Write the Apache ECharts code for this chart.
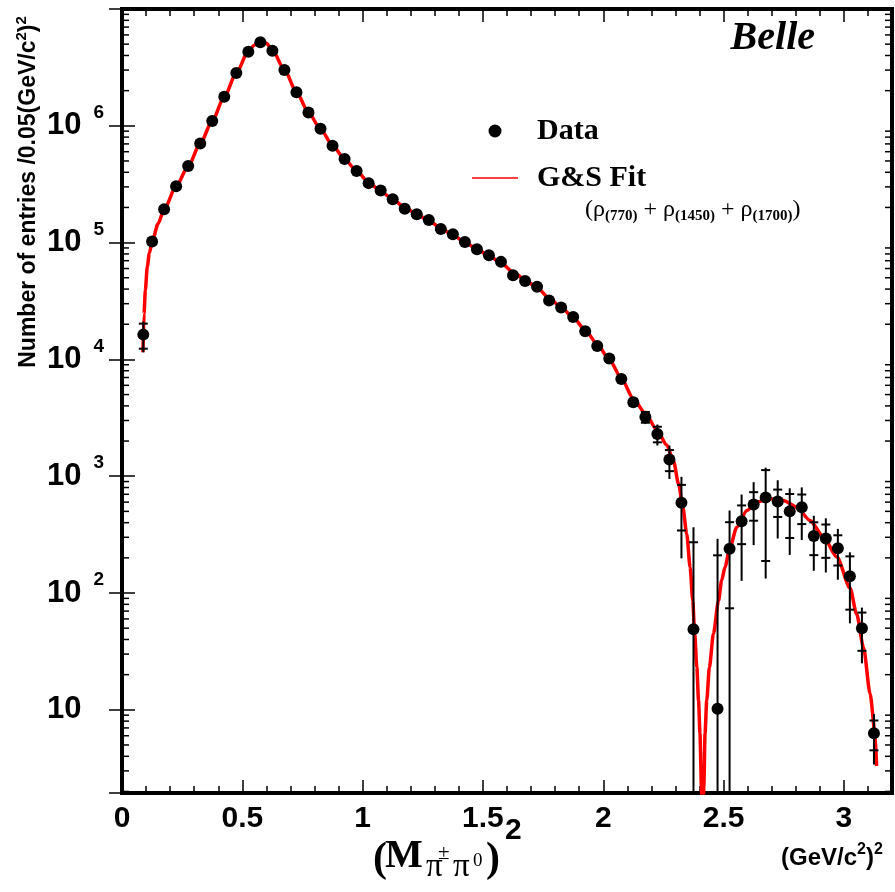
<!DOCTYPE html>
<html><head><meta charset="utf-8">
<script src="https://cdn.jsdelivr.net/npm/echarts@6/dist/echarts.min.js"></script>
<style>html,body{margin:0;padding:0;background:#fff}#c{width:895px;height:892px}</style>
</head><body><div id="c"></div>
<script>
// ---- data ----
const dataX = [0.0885,
  0.125,0.175,0.225,0.275,0.325,0.375,0.425,0.475,0.525,0.575,
  0.625,0.675,0.725,0.775,0.825,0.875,0.925,0.975,1.025,1.075,
  1.125,1.175,1.225,1.275,1.325,1.375,1.425,1.475,1.525,1.575,
  1.625,1.675,1.725,1.775,1.825,1.875,1.925,1.975,2.025,2.075,
  2.125,2.175,2.225,2.275,2.325,2.375,
  2.475,2.525,2.575,2.625,2.675,2.725,2.775,2.825,2.875,2.925,2.975,3.025,3.075,3.125];
const dataY = [1.63e4,
  1.02e5,1.93e5,3.04e5,4.52e5,7.07e5,1.10e6,1.77e6,2.83e6,4.30e6,5.19e6,
  4.39e6,3.00e6,1.94e6,1.30e6,9.42e5,6.75e5,5.19e5,4.11e5,3.23e5,2.79e5,
  2.35e5,1.95e5,1.75e5,1.56e5,1.31e5,1.18e5,1.01e5,8.77e4,7.80e4,6.84e4,
  5.26e4,4.70e4,4.19e4,3.20e4,2.78e4,2.31e4,1.74e4,1.30e4,1.02e4,6.80e3,
  4290,3210,2300,1390,593,49,
  10.2,239,412,573,658,608,500,543,307,293,242,139,50,6.3];
// statistical error (tick marks)
const dataErrStat = [3950,
  1500,2000,2500,3000,3500,4500,6000,7500,9000,10000,
  9000,7500,6000,5000,4000,3500,3000,2700,2400,2200,
  2000,1800,1700,1600,1500,1400,1300,1200,1100,1000,
  900,850,800,700,650,600,500,400,300,250,
  300,340,350,285,250,223,
  200,165,150,157,470,160,204,154,96,93,70,67,18,1.8];
// total error (full bar length)
const dataErrTot = [4800,
  1800,2400,3000,3600,4200,5400,7200,9000,10800,12000,
  10800,9000,7200,6000,4800,4200,3600,3240,2880,2640,
  2400,2160,2040,1920,1800,1680,1560,1440,1320,1200,
  1080,1020,960,840,780,720,600,480,360,300,
  350,415,470,443,395,317,
  281,270,285,316,525,315,288,259,152,143,112,84,25,2.9];

const fitX = [0.087,0.0915,0.097,0.105,0.1135,0.125,0.15,0.175,0.225,0.275,0.325,0.375,0.425,0.475,
  0.525,0.55,0.575,0.6,0.625,0.675,0.725,0.775,0.825,0.875,0.925,0.975,1.025,1.075,1.125,1.175,
  1.225,1.275,1.325,1.375,1.425,1.475,1.525,1.575,1.625,1.675,1.725,1.775,1.825,1.875,1.925,1.975,
  2.025,2.075,2.125,2.175,2.222,2.264,2.292,2.313,2.331,2.347,2.361,2.372,2.380,2.389,2.396,2.402,
  2.408,2.4125,2.418,2.423,2.430,2.441,2.458,2.479,2.492,2.506,2.525,2.555,2.597,2.638,2.693,2.749,
  2.804,2.859,2.916,2.971,3.026,3.053,3.082,3.109,3.130,3.136];
const fitY = [1.15e4,2.45e4,3.9e4,6.2e4,8.1e4,1.01e5,1.45e5,1.93e5,3.03e5,4.5e5,7.05e5,1.1e6,1.77e6,2.83e6,
  4.35e6,4.9e6,5.45e6,5.08e6,4.45e6,3.02e6,1.95e6,1.3e6,9.4e5,6.8e5,5.2e5,4.1e5,3.3e5,2.75e5,2.35e5,2.0e5,
  1.75e5,1.54e5,1.33e5,1.16e5,1.01e5,8.8e4,7.7e4,6.7e4,5.6e4,4.8e4,4.1e4,3.35e4,2.8e4,2.28e4,1.78e4,1.35e4,
  1.0e4,6.9e3,4.6e3,3.45e3,2.5e3,1.85e3,1.35e3,860,540,320,166,86,45,23,12,6.3,
  2.2,0.3,2.2,6.3,12,23,45,86,128,166,239,366,509,600,641,621,
  543,418,301,203,110,66,34,13.7,6.2,3.3];

const xTickLabels = ['0','0.5','1','1.5','2','2.5','3'];
const yTickExponents = [1,2,3,4,5,6];
const X_MIN = 0, X_MAX = 3.2, Y_MIN = 1.94, Y_MAX = 1e7;
const yMinorMultipliers = [2,3,4,5,6,7,8,9];

// ---- build options ----
const minorVals = [];
for (let d = 0; d <= 6; d++) for (const m of yMinorMultipliers) {
  const v = m * Math.pow(10, d);
  if (v > Y_MIN && v < Y_MAX) minorVals.push([X_MIN, v]);
}
const scatterData = dataX.map((x, i) => [x, dataY[i]]);
const errData = dataX.map((x, i) => [x, dataY[i], dataErrStat[i], dataErrTot[i]]);
const fitData = fitX.map((x, i) => [x, fitY[i]]);

const SANS = 'Liberation Sans', SERIF = 'Liberation Serif';
const tickStyle = {color: '#000', width: 1.5};

function xAxisDef(pos, interval, len, showLabel) {
  return {
    type: 'value', position: pos, min: X_MIN, max: X_MAX, interval: interval,
    axisLine: {show: false}, splitLine: {show: false},
    axisTick: {show: true, inside: true, length: len, lineStyle: tickStyle},
    axisLabel: showLabel ? {
      show: true, margin: 11, color: '#000', fontFamily: SANS, fontWeight: 'bold', fontSize: 30,
      formatter: function (v) {
        const idx = Math.round(v / 0.5);
        if (Math.abs(v - idx * 0.5) > 1e-6) return '';
        return xTickLabels[idx] !== undefined ? xTickLabels[idx] : '';
      }
    } : {show: false}
  };
}
function yAxisDef(pos, showLabel) {
  return {
    type: 'log', logBase: 10, position: pos, min: Y_MIN, max: Y_MAX,
    axisLine: {show: false}, splitLine: {show: false},
    axisTick: {show: true, inside: true, length: 13, lineStyle: tickStyle},
    axisLabel: showLabel ? {
      show: true, margin: 75, align: 'left', color: '#000',
      formatter: function (v) {
        const e = Math.log10(v), n = Math.round(e);
        if (Math.abs(e - n) > 1e-4 || yTickExponents.indexOf(n) < 0) return '';
        return n === 1 ? '{b|10}' : '{b|10}{s|' + n + '}';
      },
      rich: {
        b: {fontFamily: SANS, fontWeight: 'bold', fontSize: 31, lineHeight: 32, color: '#000'},
        s: {fontFamily: SANS, fontWeight: 'bold', fontSize: 19, lineHeight: 20, padding: [0, 0, 26, 12], color: '#000'}
      }
    } : {show: false}
  };
}

const chart = echarts.init(document.getElementById('c'), null, {renderer: 'canvas'});
chart.setOption({
  animation: false,
  backgroundColor: '#fff',
  grid: {left: 122, right: 3, top: 9, bottom: 99, show: true, borderWidth: 4, borderColor: '#000',
         backgroundColor: 'transparent', containLabel: false, outerBoundsMode: 'none'},
  xAxis: [
    xAxisDef('bottom', 0.5, 13, true),
    xAxisDef('bottom', 0.1, 7, false),
    xAxisDef('top', 0.5, 13, false),
    xAxisDef('top', 0.1, 7, false)
  ],
  yAxis: [yAxisDef('left', true), yAxisDef('right', false)],
  legend: {
    orient: 'vertical', left: 467, top: 111, itemWidth: 46, itemHeight: 13, itemGap: 17,
    textStyle: {fontFamily: SERIF, fontWeight: 'bold', fontSize: 30, color: '#000', padding: [0, 0, 0, 14]},
    data: [
      {name: 'Data', icon: 'circle', itemStyle: {color: '#000', opacity: 1}},
      {name: 'G&S Fit', icon: 'path://M0,0L46,0L46,1.3L0,1.3Z', itemStyle: {color: '#ff0000'}}
    ]
  },
  series: [
    {
      name: 'G&S Fit', type: 'line', data: fitData, xAxisIndex: 0, yAxisIndex: 0,
      showSymbol: false, symbol: 'none', smooth: 0.25, smoothMonotone: 'x', clip: true,
      lineStyle: {color: '#ff0000', width: 3.5}, itemStyle: {color: '#ff0000'}, z: 2
    },
    {
      name: 'errors', type: 'custom', data: errData, xAxisIndex: 0, yAxisIndex: 0,
      encode: {x: 0, y: 1}, silent: true, z: 3, clip: false,
      renderItem: function (params, api) {
        const x = api.value(0), y = api.value(1), es = api.value(2), et = api.value(3);
        const cs = params.coordSys;
        const bottomY = cs.y + cs.height;
        const cx = api.coord([x, y])[0];
        const yOf = function (v) { return v < Y_MIN ? bottomY : api.coord([x, v])[1]; };
        const st = {stroke: '#000', lineWidth: 2};
        const w = 4.5;
        const ch = [
          {type: 'line', shape: {x1: cx, y1: yOf(y + et), x2: cx, y2: yOf(y - et)}, style: st},
          {type: 'line', shape: {x1: cx - w, y1: yOf(y + es), x2: cx + w, y2: yOf(y + es)}, style: st}
        ];
        if (y - es >= Y_MIN) {
          const yl = yOf(y - es);
          ch.push({type: 'line', shape: {x1: cx - w, y1: yl, x2: cx + w, y2: yl}, style: st});
        }
        return {type: 'group', children: ch};
      }
    },
    {
      name: 'Data', type: 'scatter', data: scatterData, xAxisIndex: 0, yAxisIndex: 0,
      symbol: 'circle', symbolSize: 12, itemStyle: {color: '#000', opacity: 1}, z: 4
    },
    {
      name: 'minorTicks', type: 'custom', data: minorVals, xAxisIndex: 0, yAxisIndex: 0,
      encode: {x: 0, y: 1}, silent: true, z: 5, clip: false,
      renderItem: function (params, api) {
        const v = api.value(1);
        const l = api.coord([X_MIN, v]), r = api.coord([X_MAX, v]);
        const st = {stroke: '#000', lineWidth: 1.5};
        return {type: 'group', children: [
          {type: 'line', shape: {x1: l[0], y1: l[1], x2: l[0] + 7, y2: l[1]}, style: st},
          {type: 'line', shape: {x1: r[0] - 7, y1: r[1], x2: r[0], y2: r[1]}, style: st}
        ]};
      }
    }
  ],
  graphic: [
    {type: 'text', x: 29, y: 192, rotation: Math.PI / 2, silent: true, style: {
      text: '{a|Number of entries /0.05(GeV/c}{s|2}{a|)}{s|2}', align: 'center', verticalAlign: 'middle',
      rich: {
        a: {fontFamily: SANS, fontWeight: 'bold', fontSize: 23, lineHeight: 24, fill: '#000'},
        s: {fontFamily: SANS, fontWeight: 'bold', fontSize: 15, lineHeight: 14, padding: [0, 0, 14, 0], fill: '#000'}
      }}},
    {type: 'text', x: 815, y: 39, silent: true, style: {text: 'Belle', fontFamily: SERIF, fontStyle: 'italic',
      fontWeight: 'bold', fontSize: 40, fill: '#000', align: 'right', verticalAlign: 'middle'}},
    {type: 'text', x: 585, y: 210, silent: true, style: {
      text: '{p|(ρ}{s|(770)}{p| + ρ}{s|(1450)}{p| + ρ}{s|(1700)}{p|)}', align: 'left', verticalAlign: 'middle',
      rich: {
        p: {fontFamily: SERIF, fontSize: 24, lineHeight: 26, fill: '#000'},
        s: {fontFamily: SERIF, fontWeight: 'bold', fontSize: 15, lineHeight: 16, padding: [12, 0, 0, 0], fill: '#000'}
      }}},
    {type: 'text', x: 781, y: 858, silent: true, style: {
      text: '{a|(GeV/c}{s|2}{a|)}{s|2}', align: 'left', verticalAlign: 'middle',
      rich: {
        a: {fontFamily: SANS, fontWeight: 'bold', fontSize: 24, lineHeight: 26, fill: '#000'},
        s: {fontFamily: SANS, fontWeight: 'bold', fontSize: 16, lineHeight: 16, padding: [0, 0, 16, 0], fill: '#000'}
      }}},
    {type: 'group', silent: true, children: [
      {type: 'text', x: 373, y: 860, style: {text: '(', fontFamily: SERIF, fontWeight: 'bold', fontSize: 42, fill: '#000', verticalAlign: 'middle'}},
      {type: 'text', x: 385, y: 857, style: {text: 'M', fontFamily: SERIF, fontWeight: 'bold', fontSize: 40, fill: '#000', verticalAlign: 'middle'}},
      {type: 'text', x: 426, y: 867, style: {text: 'π', fontFamily: SERIF, fontSize: 33, fill: '#000', verticalAlign: 'middle'}},
      {type: 'text', x: 438, y: 853, style: {text: '±', fontFamily: SERIF, fontSize: 21, fill: '#000', verticalAlign: 'middle'}},
      {type: 'text', x: 453, y: 867, style: {text: 'π', fontFamily: SERIF, fontSize: 33, fill: '#000', verticalAlign: 'middle'}},
      {type: 'text', x: 473, y: 861, style: {text: '0', fontFamily: SERIF, fontSize: 19, fill: '#000', verticalAlign: 'middle'}},
      {type: 'text', x: 486, y: 860, style: {text: ')', fontFamily: SERIF, fontWeight: 'bold', fontSize: 42, fill: '#000', verticalAlign: 'middle'}},
      {type: 'text', x: 505, y: 831, style: {text: '2', fontFamily: SANS, fontWeight: 'bold', fontSize: 30, fill: '#000', verticalAlign: 'middle'}}
    ]}
  ]
});
</script>
</body></html>
